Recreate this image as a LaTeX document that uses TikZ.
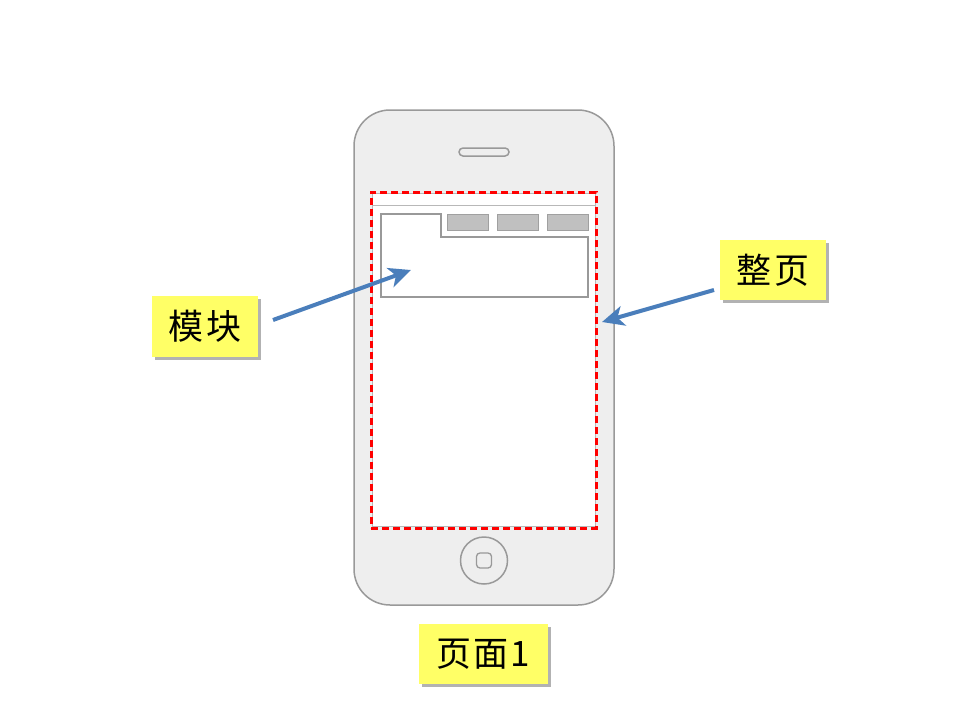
\documentclass[tikz,border=0pt]{standalone}
\usepackage{fontspec}
\newfontfamily\cjk[LetterSpace=6]{Noto Sans CJK SC}
\usetikzlibrary{shadows,arrows.meta}
\definecolor{phonefill}{HTML}{EEEEEE}
\definecolor{phoneline}{HTML}{999999}
\definecolor{boxfill}{HTML}{C0C0C0}
\definecolor{boxline}{HTML}{A0A0A0}
\definecolor{arrowblue}{HTML}{4A7EBB}
\definecolor{notey}{HTML}{FFFF66}
\tikzset{
  phone/.style={draw=phoneline, fill=phonefill, line width=1.5pt},
  graybox/.style={draw=boxline, fill=boxfill, line width=1pt},
  outline/.style={draw=phoneline, line width=1.2pt},
  pagebox/.style={draw=red, line width=3pt, dash pattern=on 7pt off 4pt},
  note/.style={fill=notey, font=\cjk\fontsize{35}{40}\selectfont, inner sep=0pt,
    drop shadow={shadow xshift=2.5pt, shadow yshift=-3pt, opacity=0.3, fill=black}},
  callout/.style={draw=arrowblue, line width=4pt, -{Stealth[length=22pt,width=20pt,inset=6pt]}},
}
\begin{document}
\begin{tikzpicture}[x=1pt,y=-1pt]
\useasboundingbox (0,0) rectangle (960,720);
% phone body
\path[phone, rounded corners=36pt] (354,110) rectangle (614,605);
\path[draw=phoneline, line width=1.5pt, fill=phonefill, rounded corners=4pt] (459,148) rectangle (509,156);
% screen
\path[draw=phoneline!70, fill=white, line width=1pt] (372,193) rectangle (595,526);
\draw[phoneline!70, line width=1pt] (372,205.5) -- (595,205.5);
% home button
\node[circle, draw=phoneline, line width=1.5pt, minimum size=47pt, inner sep=0pt] (home) at (484,560.5) {};
\path[draw=phoneline, line width=1.3pt, rounded corners=3.5pt] (476.5,553) rectangle (491.5,568);
% module outline
\path[outline, fill=white] (381,214) -- (441,214) -- (441,237) -- (588,237) -- (588,297) -- (381,297) -- cycle;
% gray tabs
\path[graybox] (447,214) rectangle (488,230);
\path[graybox] (497,214) rectangle (538,230);
\path[graybox] (547,214) rectangle (588,230);
% whole page dashed
\node[pagebox, minimum width=225pt, minimum height=336pt, inner sep=0pt] (page) at (483.5,360) {};
% arrow targets
\coordinate (modtip) at (411,270);
\coordinate (pagetip) at (602,322);
% notes
\node[note, minimum width=106pt, minimum height=61pt] (mk) at (205,326.5) {模块\hspace{-6pt}};
\node[note, minimum width=106pt, minimum height=60pt] (zy) at (773,270) {整页\hspace{-6pt}};
\node[note, minimum width=129pt, minimum height=60pt] (ym) at (483.5,654) {页面1\hspace{-6pt}};
% arrows
\draw[callout] (273,320) -- (modtip);
\draw[callout] (714,290) -- (pagetip);
\end{tikzpicture}
\end{document}
